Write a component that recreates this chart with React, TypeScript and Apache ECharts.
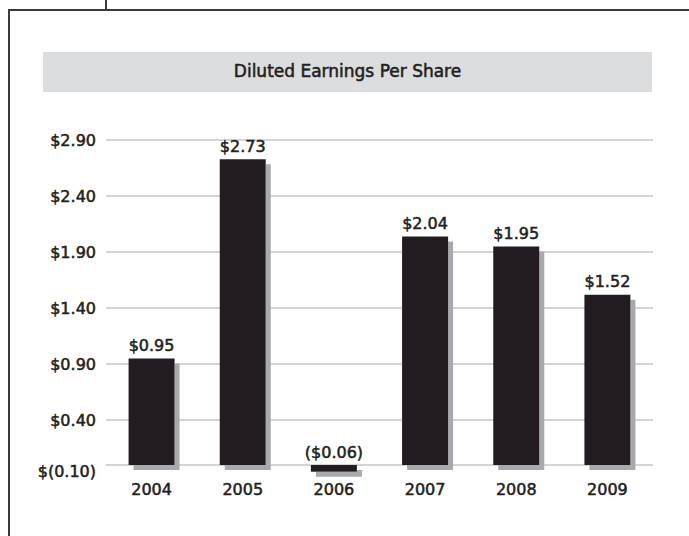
import React, { useEffect, useRef } from "react";
import * as echarts from "echarts";

const years = ["2004", "2005", "2006", "2007", "2008", "2009"];
const eps = [0.95, 2.73, -0.06, 2.04, 1.95, 1.52];
const tickValues = [0, 0.4, 0.9, 1.4, 1.9, 2.4, 2.9];
const tickLabels = ["$(0.10)", "$0.40", "$0.90", "$1.40", "$1.90", "$2.40", "$2.90"];
const chartTitle = "Diluted Earnings Per Share";

const FONT = "DejaVu Sans";
const INK = "#231f20";
const STROKE = 0.55;

function fmtValue(v: number): string {
  return v < 0 ? `($${Math.abs(v).toFixed(2)})` : `$${v.toFixed(2)}`;
}

export default function App() {
  const ref = useRef<HTMLDivElement>(null);
  useEffect(() => {
    document.body.style.margin = "0";
    if (!ref.current) return;
    const chart = echarts.init(ref.current, null, { renderer: "svg" });
    const txt = {
      color: INK,
      fontFamily: FONT,
      fontSize: 16,
      textBorderColor: INK,
      textBorderWidth: STROKE,
    };
    chart.setOption({
      animation: false,
      backgroundColor: "#ffffff",
      grid: { left: 106, right: 36, top: 129, bottom: 59.8, containLabel: false },
      graphic: [
        { type: "line", shape: { x1: 9, y1: 10, x2: 9, y2: 536 }, style: { stroke: "#3a3a3a", lineWidth: 2 } },
        { type: "line", shape: { x1: 8, y1: 10, x2: 689, y2: 10 }, style: { stroke: "#3a3a3a", lineWidth: 2 } },
        { type: "line", shape: { x1: 106, y1: 0, x2: 106, y2: 10 }, style: { stroke: "#3a3a3a", lineWidth: 2 } },
        { type: "rect", shape: { x: 43, y: 52, width: 609, height: 40 }, style: { fill: "#dcdddf" } },
        {
          type: "text",
          x: 347.5,
          y: 71,
          style: {
            text: chartTitle,
            fill: INK,
            stroke: INK,
            lineWidth: STROKE,
            font: `17px "${FONT}"`,
            align: "center",
            verticalAlign: "middle",
          },
        },
      ],
      xAxis: {
        type: "category",
        data: years,
        axisLine: { show: false, onZero: false },
        axisTick: { show: false },
        axisLabel: { ...txt, margin: 5 },
        splitLine: { show: false },
      },
      yAxis: {
        type: "value",
        min: -0.1,
        max: 3.0,
        axisLine: { show: false },
        axisTick: { show: false, customValues: tickValues },
        axisLabel: {
          ...txt,
          customValues: tickValues,
          margin: 10,
          formatter: (v: number) => {
            const i = tickValues.findIndex((t) => Math.abs(t - v) < 1e-6);
            if (i < 0) return "";
            return i === 0 ? `{low|${tickLabels[i]}}` : tickLabels[i];
          },
          rich: {
            low: { ...txt, padding: [12, 0, 0, 0] },
          },
        },
        splitLine: { show: true, lineStyle: { color: "#c6c6c6", width: 1.5 } },
      },
      series: [
        {
          type: "bar",
          data: eps,
          barWidth: 46,
          itemStyle: {
            color: INK,
            shadowColor: "#a8a9ac",
            shadowBlur: 0,
            shadowOffsetX: 5,
            shadowOffsetY: 5,
          },
          label: {
            show: true,
            position: "top",
            distance: 5,
            ...txt,
            formatter: (p: any) => fmtValue(p.value),
          },
        },
      ],
    });
    return () => chart.dispose();
  }, []);
  return <div ref={ref} style={{ width: 689, height: 536 }} />;
}
